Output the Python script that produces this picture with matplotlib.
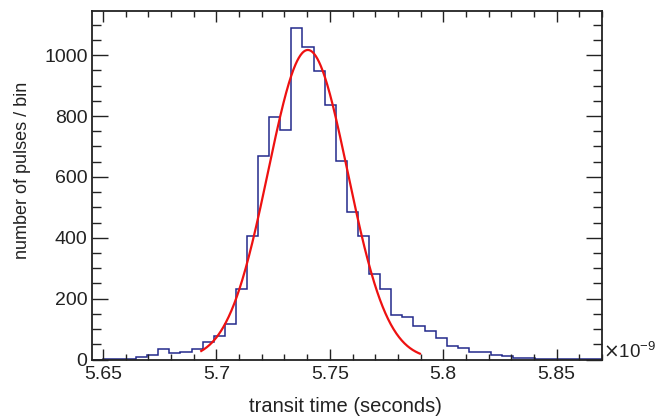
import numpy as np
import matplotlib
matplotlib.use("Agg")
import matplotlib.pyplot as plt
from matplotlib.ticker import MultipleLocator

plt.rcParams["font.family"] = ["Liberation Sans", "DejaVu Sans"]

# Histogram: 46 equal bins spanning the frame (units of 1e-9 s)
X_MIN, X_MAX = 5.645, 5.870
counts = [0, 1, 3, 3, 7, 15, 33, 21, 24, 33,
          56, 77, 116, 233, 406, 669, 798, 754, 1089, 1028,
          949, 837, 652, 484, 407, 280, 233, 147, 139, 110,
          93, 72, 46, 39, 26, 25, 14, 11, 6, 4,
          3, 3, 2, 2, 2, 1]

# Gaussian fit parameters (amplitude, mean, sigma) and fit range
FIT_AMP = 1017.0
FIT_MEAN = 5.7403
FIT_SIGMA = 0.01754
FIT_LO, FIT_HI = 5.6933, 5.7897

HIST_COL = "#23298c"
FIT_COL = "#ee1111"
TXT_COL = "#222222"

edges = np.linspace(X_MIN, X_MAX, len(counts) + 1)
xf = np.linspace(FIT_LO, FIT_HI, 400)
yf = FIT_AMP * np.exp(-0.5 * ((xf - FIT_MEAN) / FIT_SIGMA) ** 2)

fig = plt.figure(figsize=(6.63, 4.20), dpi=100)
ax = fig.add_axes([0.1383, 0.144, 0.908 - 0.1383, 0.9738 - 0.144])

ax.stairs(counts, edges, color=HIST_COL, linewidth=1.1)
ax.plot(xf, yf, color=FIT_COL, linewidth=1.6)

ax.set_xlim(X_MIN, X_MAX)
ax.set_ylim(0, 1145)

ax.xaxis.set_minor_locator(MultipleLocator(0.01))
ax.yaxis.set_major_locator(MultipleLocator(200))
ax.yaxis.set_minor_locator(MultipleLocator(50))
ax.set_xticks([5.65, 5.70, 5.75, 5.80, 5.85])
ax.set_xticklabels(["5.65", "5.7", "5.75", "5.8", "5.85"])

ax.tick_params(axis="both", which="both", direction="in",
               top=True, right=True, colors=TXT_COL, labelcolor=TXT_COL,
               labelsize=14)
ax.tick_params(axis="x", which="major", length=7.7, width=1.0, pad=4.5)
ax.tick_params(axis="x", which="minor", length=4.6, width=1.0)
ax.tick_params(axis="y", which="major", length=11.5, width=1.0, pad=3)
ax.tick_params(axis="y", which="minor", length=6.2, width=1.0)

for s in ax.spines.values():
    s.set_linewidth(1.3)
    s.set_color(TXT_COL)

fig.text(345 / 663, 1 - 406 / 420, "transit time (seconds)",
         ha="center", va="center", fontsize=14.5, color=TXT_COL)
fig.text(23 / 663, 1 - 170 / 420, "number of pulses / bin", rotation=90,
         ha="center", va="center", fontsize=13, color=TXT_COL)
fig.text(603 / 663, 1 - 352 / 420, r"$\times$10$^{\mathregular{-9}}$",
         ha="left", va="center", fontsize=13.5, color=TXT_COL)

fig.savefig("out.png", dpi=100, facecolor="white")
